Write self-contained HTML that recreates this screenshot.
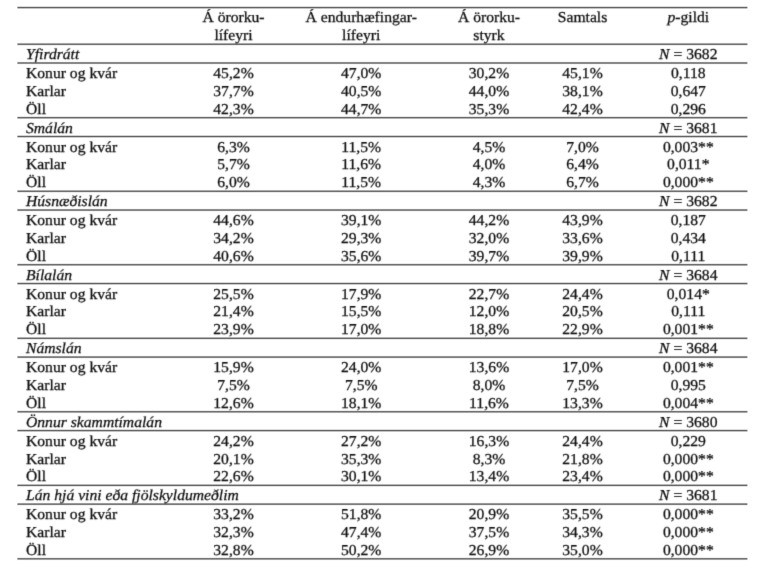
<!DOCTYPE html>
<html><head><meta charset="utf-8"><title>Tafla</title>
<style>
html,body{margin:0;padding:0;background:#fff;}
body{width:768px;height:572px;overflow:hidden;}
svg{display:block;}
text{text-rendering:geometricPrecision;font-family:"Liberation Serif","Times New Roman",serif;font-size:15.1px;fill:#111111;}
</style></head><body>
<svg width="768" height="572" viewBox="0 0 768 572">
<rect width="768" height="572" fill="#fff"/>
<defs><filter id="bl" x="-2%" y="-2%" width="104%" height="104%"><feConvolveMatrix order="3" kernelMatrix="0.0113 0.0838 0.0113 0.0838 0.6193 0.0838 0.0113 0.0838 0.0113" edgeMode="none"/></filter></defs>
<g>
<rect x="17.4" y="6" width="730" height="1" fill="rgb(218,218,218)"/>
<rect x="17.4" y="7" width="730" height="1" fill="rgb(102,102,102)"/>
<rect x="17.4" y="8" width="730" height="1" fill="rgb(194,194,194)"/>
<rect x="17.4" y="42" width="730" height="1" fill="rgb(251,251,251)"/>
<rect x="17.4" y="43" width="730" height="1" fill="rgb(166,166,166)"/>
<rect x="17.4" y="44" width="730" height="1" fill="rgb(115,115,115)"/>
<rect x="17.4" y="45" width="730" height="1" fill="rgb(235,235,235)"/>
<rect x="17.4" y="61" width="730" height="1" fill="rgb(246,246,246)"/>
<rect x="17.4" y="62" width="730" height="1" fill="rgb(138,138,138)"/>
<rect x="17.4" y="63" width="730" height="1" fill="rgb(138,138,138)"/>
<rect x="17.4" y="64" width="730" height="1" fill="rgb(246,246,246)"/>
<rect x="17.4" y="116" width="730" height="1" fill="rgb(229,229,229)"/>
<rect x="17.4" y="117" width="730" height="1" fill="rgb(108,108,108)"/>
<rect x="17.4" y="118" width="730" height="1" fill="rgb(177,177,177)"/>
<rect x="17.4" y="119" width="730" height="1" fill="rgb(253,253,253)"/>
<rect x="17.4" y="135" width="730" height="1" fill="rgb(209,209,209)"/>
<rect x="17.4" y="136" width="730" height="1" fill="rgb(100,100,100)"/>
<rect x="17.4" y="137" width="730" height="1" fill="rgb(204,204,204)"/>
<rect x="17.4" y="189" width="730" height="1" fill="rgb(252,252,252)"/>
<rect x="17.4" y="190" width="730" height="1" fill="rgb(171,171,171)"/>
<rect x="17.4" y="191" width="730" height="1" fill="rgb(111,111,111)"/>
<rect x="17.4" y="192" width="730" height="1" fill="rgb(232,232,232)"/>
<rect x="17.4" y="208" width="730" height="1" fill="rgb(247,247,247)"/>
<rect x="17.4" y="209" width="730" height="1" fill="rgb(143,143,143)"/>
<rect x="17.4" y="210" width="730" height="1" fill="rgb(132,132,132)"/>
<rect x="17.4" y="211" width="730" height="1" fill="rgb(244,244,244)"/>
<rect x="17.4" y="263" width="730" height="1" fill="rgb(232,232,232)"/>
<rect x="17.4" y="264" width="730" height="1" fill="rgb(111,111,111)"/>
<rect x="17.4" y="265" width="730" height="1" fill="rgb(171,171,171)"/>
<rect x="17.4" y="266" width="730" height="1" fill="rgb(252,252,252)"/>
<rect x="17.4" y="282" width="730" height="1" fill="rgb(213,213,213)"/>
<rect x="17.4" y="283" width="730" height="1" fill="rgb(101,101,101)"/>
<rect x="17.4" y="284" width="730" height="1" fill="rgb(199,199,199)"/>
<rect x="17.4" y="336" width="730" height="1" fill="rgb(253,253,253)"/>
<rect x="17.4" y="337" width="730" height="1" fill="rgb(177,177,177)"/>
<rect x="17.4" y="338" width="730" height="1" fill="rgb(108,108,108)"/>
<rect x="17.4" y="339" width="730" height="1" fill="rgb(229,229,229)"/>
<rect x="17.4" y="355" width="730" height="1" fill="rgb(248,248,248)"/>
<rect x="17.4" y="356" width="730" height="1" fill="rgb(148,148,148)"/>
<rect x="17.4" y="357" width="730" height="1" fill="rgb(127,127,127)"/>
<rect x="17.4" y="358" width="730" height="1" fill="rgb(242,242,242)"/>
<rect x="17.4" y="410" width="730" height="1" fill="rgb(235,235,235)"/>
<rect x="17.4" y="411" width="730" height="1" fill="rgb(115,115,115)"/>
<rect x="17.4" y="412" width="730" height="1" fill="rgb(166,166,166)"/>
<rect x="17.4" y="413" width="730" height="1" fill="rgb(251,251,251)"/>
<rect x="17.4" y="429" width="730" height="1" fill="rgb(218,218,218)"/>
<rect x="17.4" y="430" width="730" height="1" fill="rgb(102,102,102)"/>
<rect x="17.4" y="431" width="730" height="1" fill="rgb(194,194,194)"/>
<rect x="17.4" y="483" width="730" height="1" fill="rgb(253,253,253)"/>
<rect x="17.4" y="484" width="730" height="1" fill="rgb(183,183,183)"/>
<rect x="17.4" y="485" width="730" height="1" fill="rgb(105,105,105)"/>
<rect x="17.4" y="486" width="730" height="1" fill="rgb(225,225,225)"/>
<rect x="17.4" y="502" width="730" height="1" fill="rgb(250,250,250)"/>
<rect x="17.4" y="503" width="730" height="1" fill="rgb(154,154,154)"/>
<rect x="17.4" y="504" width="730" height="1" fill="rgb(123,123,123)"/>
<rect x="17.4" y="505" width="730" height="1" fill="rgb(240,240,240)"/>
<rect x="17.4" y="557" width="730" height="1" fill="rgb(238,238,238)"/>
<rect x="17.4" y="558" width="730" height="1" fill="rgb(119,119,119)"/>
<rect x="17.4" y="559" width="730" height="1" fill="rgb(160,160,160)"/>
<rect x="17.4" y="560" width="730" height="1" fill="rgb(251,251,251)"/>
</g>

<g filter="url(#bl)" stroke="#111111" stroke-width="0.28" transform="scale(1.036,1)">
<text x="225.39" y="22.3" text-anchor="middle">Á örorku-</text>
<text x="225.39" y="40.3" text-anchor="middle">lífeyri</text>
<text x="348.65" y="22.3" text-anchor="middle">Á endurhæfingar-</text>
<text x="348.65" y="40.3" text-anchor="middle">lífeyri</text>
<text x="472.01" y="22.3" text-anchor="middle">Á örorku-</text>
<text x="472.01" y="40.3" text-anchor="middle">styrk</text>
<text x="562.26" y="22.3" text-anchor="middle">Samtals</text>
<text x="664.38" y="22.3" text-anchor="middle"><tspan font-style="italic">p</tspan>-gildi</text>
<text x="25.1" y="59" font-style="italic">Yfirdrátt</text>
<text x="664.38" y="59" text-anchor="middle"><tspan font-style="italic">N</tspan> = 3682</text>
<text x="25.1" y="78">Konur og kvár</text>
<text x="225.39" y="78" text-anchor="middle">45,2%</text>
<text x="348.65" y="78" text-anchor="middle">47,0%</text>
<text x="472.01" y="78" text-anchor="middle">30,2%</text>
<text x="562.26" y="78" text-anchor="middle">45,1%</text>
<text x="664.38" y="78" text-anchor="middle">0,118</text>
<text x="25.1" y="95.9">Karlar</text>
<text x="225.39" y="95.9" text-anchor="middle">37,7%</text>
<text x="348.65" y="95.9" text-anchor="middle">40,5%</text>
<text x="472.01" y="95.9" text-anchor="middle">44,0%</text>
<text x="562.26" y="95.9" text-anchor="middle">38,1%</text>
<text x="664.38" y="95.9" text-anchor="middle">0,647</text>
<text x="25.1" y="113.5">Öll</text>
<text x="225.39" y="113.5" text-anchor="middle">42,3%</text>
<text x="348.65" y="113.5" text-anchor="middle">44,7%</text>
<text x="472.01" y="113.5" text-anchor="middle">35,3%</text>
<text x="562.26" y="113.5" text-anchor="middle">42,4%</text>
<text x="664.38" y="113.5" text-anchor="middle">0,296</text>
<text x="25.1" y="132.52" font-style="italic">Smálán</text>
<text x="664.38" y="132.52" text-anchor="middle"><tspan font-style="italic">N</tspan> = 3681</text>
<text x="25.1" y="151.52">Konur og kvár</text>
<text x="225.39" y="151.52" text-anchor="middle">6,3%</text>
<text x="348.65" y="151.52" text-anchor="middle">11,5%</text>
<text x="472.01" y="151.52" text-anchor="middle">4,5%</text>
<text x="562.26" y="151.52" text-anchor="middle">7,0%</text>
<text x="664.38" y="151.52" text-anchor="middle">0,003**</text>
<text x="25.1" y="169.42">Karlar</text>
<text x="225.39" y="169.42" text-anchor="middle">5,7%</text>
<text x="348.65" y="169.42" text-anchor="middle">11,6%</text>
<text x="472.01" y="169.42" text-anchor="middle">4,0%</text>
<text x="562.26" y="169.42" text-anchor="middle">6,4%</text>
<text x="664.38" y="169.42" text-anchor="middle">0,011*</text>
<text x="25.1" y="187.02">Öll</text>
<text x="225.39" y="187.02" text-anchor="middle">6,0%</text>
<text x="348.65" y="187.02" text-anchor="middle">11,5%</text>
<text x="472.01" y="187.02" text-anchor="middle">4,3%</text>
<text x="562.26" y="187.02" text-anchor="middle">6,7%</text>
<text x="664.38" y="187.02" text-anchor="middle">0,000**</text>
<text x="25.1" y="206.04" font-style="italic">Húsnæðislán</text>
<text x="664.38" y="206.04" text-anchor="middle"><tspan font-style="italic">N</tspan> = 3682</text>
<text x="25.1" y="225.04">Konur og kvár</text>
<text x="225.39" y="225.04" text-anchor="middle">44,6%</text>
<text x="348.65" y="225.04" text-anchor="middle">39,1%</text>
<text x="472.01" y="225.04" text-anchor="middle">44,2%</text>
<text x="562.26" y="225.04" text-anchor="middle">43,9%</text>
<text x="664.38" y="225.04" text-anchor="middle">0,187</text>
<text x="25.1" y="242.94">Karlar</text>
<text x="225.39" y="242.94" text-anchor="middle">34,2%</text>
<text x="348.65" y="242.94" text-anchor="middle">29,3%</text>
<text x="472.01" y="242.94" text-anchor="middle">32,0%</text>
<text x="562.26" y="242.94" text-anchor="middle">33,6%</text>
<text x="664.38" y="242.94" text-anchor="middle">0,434</text>
<text x="25.1" y="260.54">Öll</text>
<text x="225.39" y="260.54" text-anchor="middle">40,6%</text>
<text x="348.65" y="260.54" text-anchor="middle">35,6%</text>
<text x="472.01" y="260.54" text-anchor="middle">39,7%</text>
<text x="562.26" y="260.54" text-anchor="middle">39,9%</text>
<text x="664.38" y="260.54" text-anchor="middle">0,111</text>
<text x="25.1" y="279.56" font-style="italic">Bílalán</text>
<text x="664.38" y="279.56" text-anchor="middle"><tspan font-style="italic">N</tspan> = 3684</text>
<text x="25.1" y="298.56">Konur og kvár</text>
<text x="225.39" y="298.56" text-anchor="middle">25,5%</text>
<text x="348.65" y="298.56" text-anchor="middle">17,9%</text>
<text x="472.01" y="298.56" text-anchor="middle">22,7%</text>
<text x="562.26" y="298.56" text-anchor="middle">24,4%</text>
<text x="664.38" y="298.56" text-anchor="middle">0,014*</text>
<text x="25.1" y="316.46">Karlar</text>
<text x="225.39" y="316.46" text-anchor="middle">21,4%</text>
<text x="348.65" y="316.46" text-anchor="middle">15,5%</text>
<text x="472.01" y="316.46" text-anchor="middle">12,0%</text>
<text x="562.26" y="316.46" text-anchor="middle">20,5%</text>
<text x="664.38" y="316.46" text-anchor="middle">0,111</text>
<text x="25.1" y="334.06">Öll</text>
<text x="225.39" y="334.06" text-anchor="middle">23,9%</text>
<text x="348.65" y="334.06" text-anchor="middle">17,0%</text>
<text x="472.01" y="334.06" text-anchor="middle">18,8%</text>
<text x="562.26" y="334.06" text-anchor="middle">22,9%</text>
<text x="664.38" y="334.06" text-anchor="middle">0,001**</text>
<text x="25.1" y="353.08" font-style="italic">Námslán</text>
<text x="664.38" y="353.08" text-anchor="middle"><tspan font-style="italic">N</tspan> = 3684</text>
<text x="25.1" y="372.08">Konur og kvár</text>
<text x="225.39" y="372.08" text-anchor="middle">15,9%</text>
<text x="348.65" y="372.08" text-anchor="middle">24,0%</text>
<text x="472.01" y="372.08" text-anchor="middle">13,6%</text>
<text x="562.26" y="372.08" text-anchor="middle">17,0%</text>
<text x="664.38" y="372.08" text-anchor="middle">0,001**</text>
<text x="25.1" y="389.98">Karlar</text>
<text x="225.39" y="389.98" text-anchor="middle">7,5%</text>
<text x="348.65" y="389.98" text-anchor="middle">7,5%</text>
<text x="472.01" y="389.98" text-anchor="middle">8,0%</text>
<text x="562.26" y="389.98" text-anchor="middle">7,5%</text>
<text x="664.38" y="389.98" text-anchor="middle">0,995</text>
<text x="25.1" y="407.58">Öll</text>
<text x="225.39" y="407.58" text-anchor="middle">12,6%</text>
<text x="348.65" y="407.58" text-anchor="middle">18,1%</text>
<text x="472.01" y="407.58" text-anchor="middle">11,6%</text>
<text x="562.26" y="407.58" text-anchor="middle">13,3%</text>
<text x="664.38" y="407.58" text-anchor="middle">0,004**</text>
<text x="25.1" y="426.6" font-style="italic">Önnur skammtímalán</text>
<text x="664.38" y="426.6" text-anchor="middle"><tspan font-style="italic">N</tspan> = 3680</text>
<text x="25.1" y="445.6">Konur og kvár</text>
<text x="225.39" y="445.6" text-anchor="middle">24,2%</text>
<text x="348.65" y="445.6" text-anchor="middle">27,2%</text>
<text x="472.01" y="445.6" text-anchor="middle">16,3%</text>
<text x="562.26" y="445.6" text-anchor="middle">24,4%</text>
<text x="664.38" y="445.6" text-anchor="middle">0,229</text>
<text x="25.1" y="463.5">Karlar</text>
<text x="225.39" y="463.5" text-anchor="middle">20,1%</text>
<text x="348.65" y="463.5" text-anchor="middle">35,3%</text>
<text x="472.01" y="463.5" text-anchor="middle">8,3%</text>
<text x="562.26" y="463.5" text-anchor="middle">21,8%</text>
<text x="664.38" y="463.5" text-anchor="middle">0,000**</text>
<text x="25.1" y="481.1">Öll</text>
<text x="225.39" y="481.1" text-anchor="middle">22,6%</text>
<text x="348.65" y="481.1" text-anchor="middle">30,1%</text>
<text x="472.01" y="481.1" text-anchor="middle">13,4%</text>
<text x="562.26" y="481.1" text-anchor="middle">23,4%</text>
<text x="664.38" y="481.1" text-anchor="middle">0,000**</text>
<text x="25.1" y="500.12" font-style="italic">Lán hjá vini eða fjölskyldumeðlim</text>
<text x="664.38" y="500.12" text-anchor="middle"><tspan font-style="italic">N</tspan> = 3681</text>
<text x="25.1" y="519.12">Konur og kvár</text>
<text x="225.39" y="519.12" text-anchor="middle">33,2%</text>
<text x="348.65" y="519.12" text-anchor="middle">51,8%</text>
<text x="472.01" y="519.12" text-anchor="middle">20,9%</text>
<text x="562.26" y="519.12" text-anchor="middle">35,5%</text>
<text x="664.38" y="519.12" text-anchor="middle">0,000**</text>
<text x="25.1" y="537.02">Karlar</text>
<text x="225.39" y="537.02" text-anchor="middle">32,3%</text>
<text x="348.65" y="537.02" text-anchor="middle">47,4%</text>
<text x="472.01" y="537.02" text-anchor="middle">37,5%</text>
<text x="562.26" y="537.02" text-anchor="middle">34,3%</text>
<text x="664.38" y="537.02" text-anchor="middle">0,000**</text>
<text x="25.1" y="554.62">Öll</text>
<text x="225.39" y="554.62" text-anchor="middle">32,8%</text>
<text x="348.65" y="554.62" text-anchor="middle">50,2%</text>
<text x="472.01" y="554.62" text-anchor="middle">26,9%</text>
<text x="562.26" y="554.62" text-anchor="middle">35,0%</text>
<text x="664.38" y="554.62" text-anchor="middle">0,000**</text>
</g>
</svg>
</body></html>
